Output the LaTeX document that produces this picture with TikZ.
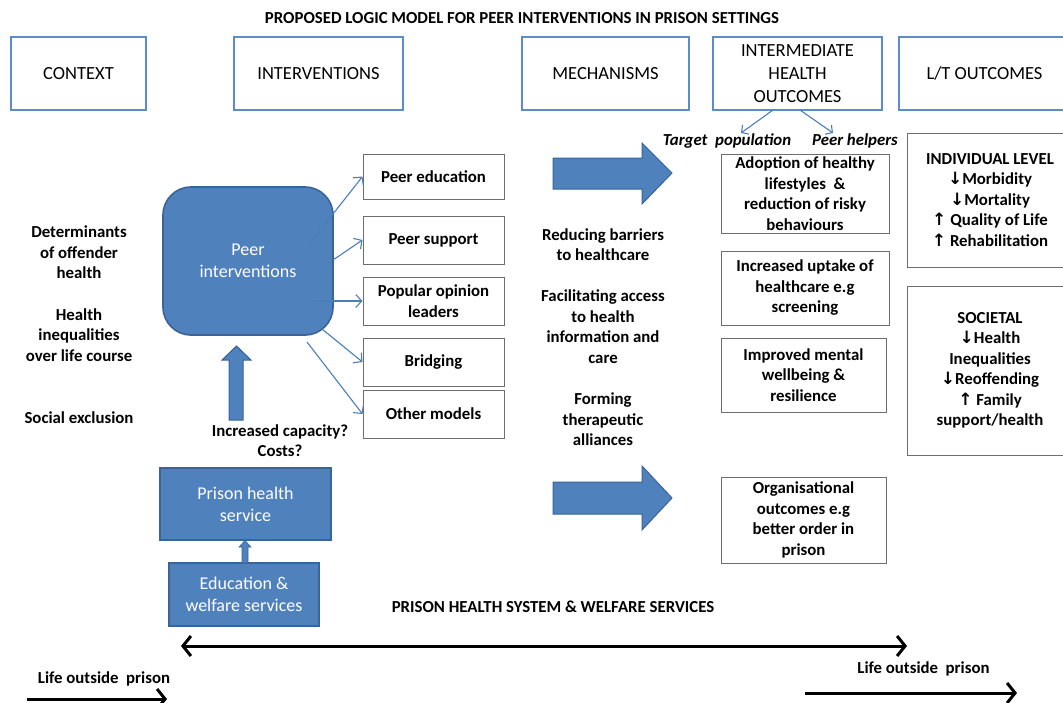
\documentclass[tikz,border=0pt]{standalone}
\usepackage{fontspec}
\setmainfont{Carlito}
\newfontfamily\arrfont{DejaVu Sans}
\usetikzlibrary{arrows.meta}
\definecolor{obl}{HTML}{4F81BD}
\definecolor{obd}{HTML}{3A6398}
\definecolor{hdrc}{HTML}{5B8CCB}
\definecolor{conn}{HTML}{4A7EBB}
\definecolor{gryc}{HTML}{6E6E6E}
\newcommand{\dn}{{\arrfont\fontsize{17}{20}\selectfont ↓}}
\newcommand{\up}{{\arrfont\fontsize{17}{20}\selectfont ↑}}
\tikzset{
 hdr/.style={draw=hdrc, line width=2.4pt, fill=white, minimum height=73pt, align=center, font=\fontsize{18.5}{23}\selectfont, inner sep=0pt},
 pbox/.style={draw=gryc, line width=1pt, minimum width=141pt, minimum height=48pt, align=center, font=\bfseries\fontsize{16.8}{20.5}\selectfont, inner sep=0pt},
 obox/.style={draw=gryc, line width=1pt, align=center, font=\bfseries\fontsize{16.8}{20.5}\selectfont, inner sep=0pt},
 btxt/.style={align=center, font=\bfseries\fontsize{16.8}{20.5}\selectfont, inner sep=0pt},
 itxt/.style={align=center, font=\bfseries\itshape\fontsize{16.8}{20.5}\selectfont, inner sep=0pt},
 bluebox/.style={draw=obd, line width=1.6pt, fill=obl, text=white, align=center, font=\fontsize{18}{22}\selectfont, inner sep=0pt},
 thinarr/.style={draw=conn, line width=1.1pt, -{Straight Barb[length=6pt,width=13pt]}},
 blkarr/.style={draw=black, line width=3pt},
 bigarr/.style={fill=obl, draw=obd, line width=1pt}
}
\begin{document}
\begin{tikzpicture}[x=1pt,y=-1pt]
\clip (0,0) rectangle (1063,702);
\useasboundingbox (0,0) rectangle (1063,702);
\fill[white] (0,0) rectangle (1063,702);

% title
\node[btxt, font=\bfseries\fontsize{16.8}{20}\selectfont] (title) at (522,18) {PROPOSED LOGIC MODEL FOR PEER INTERVENTIONS IN PRISON SETTINGS};

% header boxes
\node[hdr, minimum width=135pt] (ctx) at (78.5,73.5) {CONTEXT};
\node[hdr, minimum width=169pt] (int) at (318.5,73.5) {INTERVENTIONS};
\node[hdr, minimum width=167pt] (mech) at (605.5,73.5) {MECHANISMS};
\node[hdr, minimum width=169pt] (iho) at (797.5,73.5) {INTERMEDIATE\\HEALTH\\OUTCOMES};
\node[hdr, minimum width=171pt] (lt) at (984.5,73.5) {L/T OUTCOMES};

% context texts
\node[btxt] (det) at (79,252.5) {Determinants\\of offender\\health};
\node[btxt] (hin) at (79,335) {Health\\inequalities\\over life course};
\node[btxt] (soc) at (79,418) {Social exclusion};

% thin connector parts seen through the rounded box
\coordinate (s1) at (311,242);
\coordinate (s2) at (333,260);
\coordinate (s3) at (315,301);
\coordinate (s4) at (322,329);
\coordinate (s5) at (307,342);

% peer interventions
\node[bluebox, rounded corners=28pt, minimum width=170pt, minimum height=148pt] (peer) at (248,261) {Peer\\interventions};

% intervention boxes
\node[pbox, minimum height=45pt] (pe) at (433.5,176.5) {Peer education};
\node[pbox] (ps) at (433.5,240) {Peer support};
\node[pbox] (po) at (433.5,301) {Popular opinion\\leaders};
\node[pbox] (br) at (433.5,362) {Bridging};
\node[pbox] (om) at (433.5,414) {Other models};

\draw[thinarr] (s1) -- (pe.west);
\draw[thinarr] (s2) -- (ps.west);
\draw[thinarr] (s3) -- (po.west);
\draw[thinarr] (s4) -- (br.west);
\draw[thinarr] (s5) -- (om.west);

% up arrow
\filldraw[bigarr] (229,420) -- (229,360) -- (222,360) -- (236.5,346) -- (251,360) -- (243,360) -- (243,420) -- cycle;
\node[btxt] (cap) at (280,440.5) {Increased capacity?\\Costs?};

% prison health service
\node[bluebox, minimum width=171pt, minimum height=72pt] (phs) at (245.5,504) {Prison health\\service};
\node[bluebox, minimum width=150pt, minimum height=63pt] (edu) at (244,594.5) {Education \&\\welfare services};
\filldraw[bigarr, line width=0.6pt] (242,563) -- (242,547) -- (239,547) -- (245,540.5) -- (251,547) -- (248,547) -- (248,563) -- cycle;

% mechanisms
\node[btxt] (rb) at (603,244.5) {Reducing barriers\\to healthcare};
\node[btxt] (fa) at (603,326.5) {Facilitating access\\to health\\information and\\care};
\node[btxt] (ft) at (603,419.5) {Forming\\therapeutic\\alliances};

% big arrows
\filldraw[bigarr] (553,158) -- (642,158) -- (642,143) -- (672,173) -- (642,204) -- (642,189) -- (553,189) -- cycle;
\filldraw[bigarr] (553,482) -- (642,482) -- (642,466) -- (672,498) -- (642,530) -- (642,514) -- (553,514) -- cycle;

% target / peer helpers
\node[itxt] (tp) at (727,141) {Target\ \ population};
\node[itxt] (ph) at (855,141) {Peer helpers};
\coordinate (ia) at (773,110);
\coordinate (ib) at (800,110);
\coordinate (ta) at (741,133);
\coordinate (tb) at (833,133);
\draw[thinarr, -{Straight Barb[length=5pt,width=11pt]}] (ia) -- (ta);
\draw[thinarr, -{Straight Barb[length=5pt,width=11pt]}] (ib) -- (tb);

% intermediate outcomes
\node[obox, minimum width=168pt, minimum height=79pt] (ad) at (805,193.5) {Adoption of healthy\\lifestyles\ \ \&\\reduction of risky\\behaviours};
\node[obox, minimum width=168pt, minimum height=74pt] (up) at (805,288) {Increased uptake of\\healthcare e.g\\screening};
\node[obox, minimum width=165pt, minimum height=74pt] (mw) at (803.5,375) {Improved mental\\wellbeing \&\\resilience};
\node[obox, minimum width=165pt, minimum height=86pt] (org) at (803.5,520) {Organisational\\outcomes e.g\\better order in\\prison};

% long term outcomes
\node[obox, minimum width=166pt, minimum height=134pt] (ind) at (990,200) {INDIVIDUAL LEVEL\\\dn Morbidity\\\dn Mortality\\\up\ Quality of Life\\\up\ Rehabilitation};
\node[obox, minimum width=166pt, minimum height=169pt] (soct) at (990,370.5) {SOCIETAL\\\dn Health\\Inequalities\\\dn Reoffending\\\up\ Family\\support/health};

% bottom
\node[btxt] (phsys) at (553,607) {PRISON HEALTH SYSTEM \& WELFARE SERVICES};
\coordinate (la) at (181,646);
\coordinate (ra) at (907,646);
\draw[blkarr, {Straight Barb[length=8pt,width=20pt]}-{Straight Barb[length=8pt,width=20pt]}] (la) -- (ra);

\node[btxt] (lol) at (104,679) {Life outside\ \ prison};
\coordinate (l1) at (27,699);
\coordinate (l2) at (167,699);
\draw[blkarr, -{Straight Barb[length=8pt,width=20pt]}] (l1) -- (l2);

\node[btxt] (lor) at (923.5,669) {Life outside\ \ prison};
\coordinate (r1) at (805,693);
\coordinate (r2) at (1017,693);
\draw[blkarr, -{Straight Barb[length=8pt,width=20pt]}] (r1) -- (r2);
\end{tikzpicture}
\end{document}
